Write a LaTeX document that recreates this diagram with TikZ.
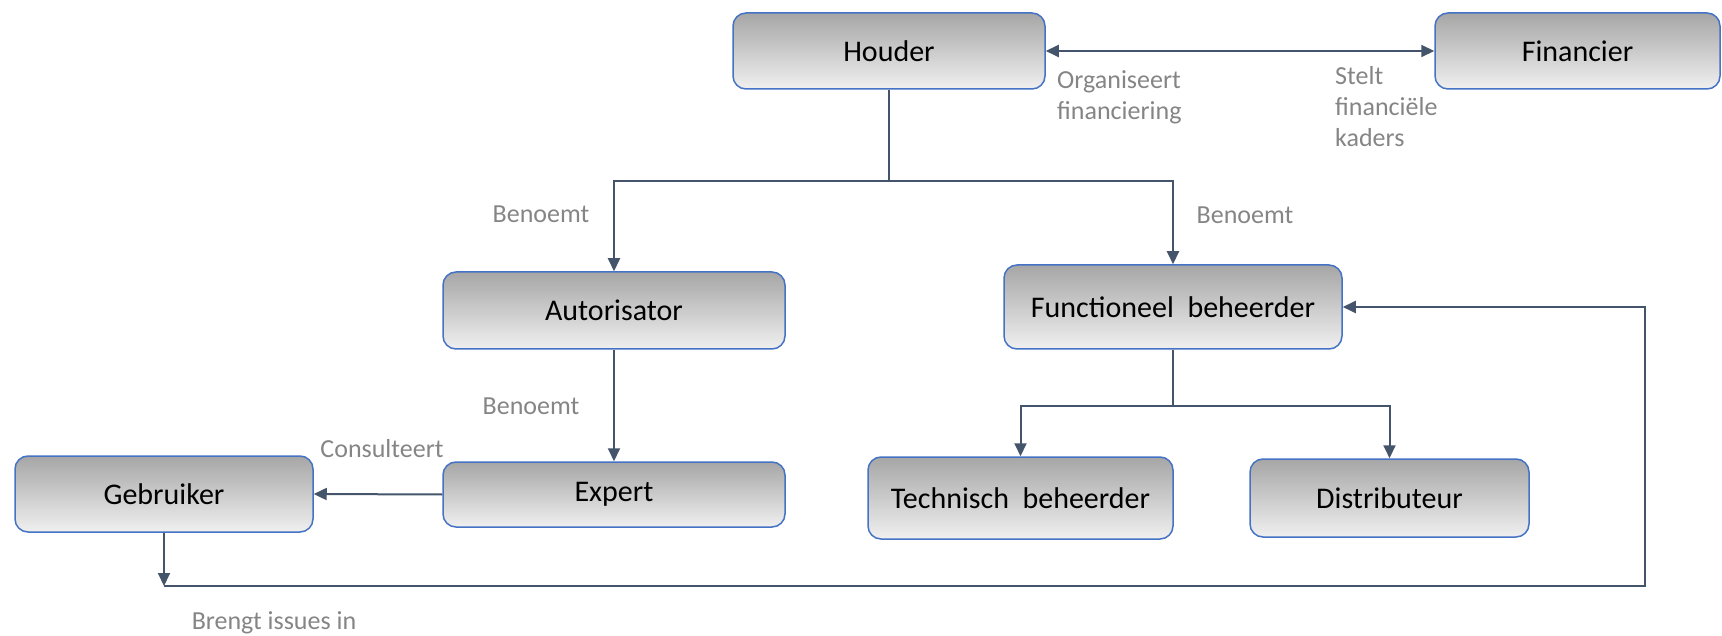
\documentclass[tikz,border=0pt]{standalone}
\usepackage{fontspec}
\setmainfont{Carlito}
\usetikzlibrary{arrows.meta}
\definecolor{boxline}{HTML}{4472C4}
\definecolor{boxtop}{HTML}{A6A6A6}
\definecolor{boxbot}{HTML}{F0F0F0}
\definecolor{conncol}{HTML}{44546A}
\definecolor{labcol}{HTML}{858585}
\tikzset{
  rolebox/.style={draw=boxline, line width=1.5pt, rounded corners=13pt,
    top color=boxtop, bottom color=boxbot, text=black,
    font=\fontsize{30}{36}\selectfont, inner sep=0pt},
  conn/.style={draw=conncol, line width=2pt},
  arr/.style={conn, -{Triangle[length=13pt,width=12pt]}},
  darr/.style={conn, {Triangle[length=13pt,width=12pt]}-{Triangle[length=13pt,width=12pt]}},
  lab/.style={text=labcol, font=\fontsize{26}{31}\selectfont, inner sep=0pt}
}
\begin{document}
\begin{tikzpicture}[x=1pt,y=-1pt]
\useasboundingbox (0,0) rectangle (1722,636);
% boxes
\node[rolebox, minimum width=312pt, minimum height=76pt] (houder) at (889,51) {Houder};
\node[rolebox, minimum width=285pt, minimum height=76pt] (fin) at (1577.5,51) {Financier};
\node[rolebox, minimum width=342pt, minimum height=77pt] (autor) at (614,310.5) {Autorisator};
\node[rolebox, minimum width=338pt, minimum height=84pt] (func) at (1173,307) {Functioneel\ \ beheerder};
\node[rolebox, minimum width=298pt, minimum height=76pt] (gebr) at (164,494) {Gebruiker};
\node[rolebox, minimum width=342pt, minimum height=65pt] (expert) at (614,494.5) {Expert};
\node[rolebox, minimum width=305pt, minimum height=82pt] (tech) at (1020.5,498) {Technisch\ \ beheerder};
\node[rolebox, minimum width=279pt, minimum height=78pt] (dist) at (1389.5,498) {Distributeur};
% coordinates
\coordinate (hsplit) at (889,181);
\coordinate (fsplit) at (1173,406);
\coordinate (gcorner) at (164,586);
\coordinate (rcorner) at (1645,586);
% connectors
\draw[darr] (houder.east) -- (fin.west);
\draw[conn] (houder.south) -- (hsplit);
\draw[arr] (hsplit) -| (autor.north);
\draw[arr] (hsplit) -| (func.north);
\draw[arr] (autor.south) -- (expert.north);
\draw[arr] (expert.west) -- (gebr.east);
\draw[conn] (func.south) -- (fsplit);
\draw[arr] (fsplit) -| (tech.north);
\draw[arr] (fsplit) -| (dist.north);
\draw[arr] (gebr.south) -- (gcorner);
\draw[arr] (gcorner) -- (rcorner) |- (func.east);
% labels
\node[lab, anchor=west, align=left] (l1) at (1057,97) {Organiseert\\financiering};
\node[lab, anchor=west, align=left] (l2) at (1335,107) {Stelt\\financiële\\kaders};
\node[lab] (l3) at (541,214) {Benoemt};
\node[lab] (l4) at (1245,215) {Benoemt};
\node[lab] (l5) at (531,406) {Benoemt};
\node[lab] (l6) at (382,449) {Consulteert};
\node[lab] (l7) at (274,623) {Brengt issues in};
\end{tikzpicture}
\end{document}
